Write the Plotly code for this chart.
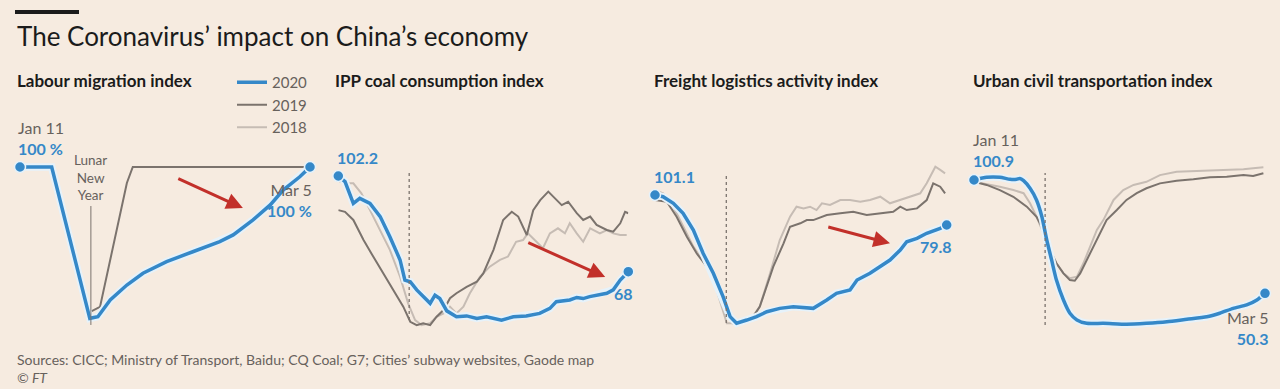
import plotly.graph_objects as go

# ---------------- data (days since Jan 11, index values) ----------------
# Labour migration index (%)
mig_2020_days = [0, 5.9, 13.0, 14.5, 16.8, 19.9, 22.9, 27.3, 32.3, 37.2, 39.7, 43.4, 46.6, 49.0, 52.1, 54]
mig_2020 = [100, 100, 17.8, 18.7, 27.8, 35.9, 42.3, 48.6, 54.1, 59.5, 63.1, 71.3, 79.4, 87.5, 94.7, 100]
mig_2019_days = [0, 6.0, 13.0, 14.9, 19.9, 21.0, 54]
mig_2019 = [100, 100, 21.2, 24.0, 91.3, 100, 100]

# IPP coal consumption index
coal_2020_days = [0, 1.25, 2.8, 4.0, 5.9, 7.8, 9.6, 11.5, 12.4, 13.4, 14.6, 17.1, 18.0, 18.9, 20.2, 22.0, 23.9, 25.8,
                  27.6, 29.5, 30.4, 32.6, 35.0, 37.5, 39.4, 40.6, 43.1, 44.4, 45.6, 46.8, 48.7, 50.0, 51.2, 52.5, 54]
coal_2020 = [102.2, 100.2, 92.4, 94.2, 92.4, 87.7, 80.5, 72.2, 65.0, 64.4, 61.5, 56.7, 59.6, 58.4, 54.0, 51.9, 52.2, 51.3,
             51.9, 51.3, 50.7, 51.9, 52.2, 53.1, 54.9, 57.3, 57.9, 58.8, 58.4, 59.1, 59.7, 60.3, 61.5, 65.0, 68.0]
coal_2019_days = [0, 1.25, 2.8, 4.7, 6.5, 8.4, 10.2, 12.1, 13.4, 14.6, 15.8, 17.1, 18.3, 19.6, 20.8, 22.0, 23.9, 25.8,
                  27.0, 28.9, 30.7, 32.3, 33.5, 35.1, 36.3, 37.6, 39.1, 40.7, 41.6, 42.8, 44.4, 45.6, 46.9, 48.1, 50.0,
                  51.2, 52.5, 53.4, 54]
coal_2019 = [90.0, 89.4, 86.5, 79.3, 73.4, 67.4, 61.5, 55.5, 50.1, 48.9, 49.6, 48.9, 51.9, 54.3, 58.5, 60.3, 62.6, 64.4,
             67.4, 75.8, 86.5, 89.4, 87.7, 81.1, 90.0, 93.6, 96.6, 93.6, 91.8, 93.0, 88.9, 86.5, 87.7, 84.7, 82.9,
             82.3, 85.3, 89.4, 88.9]
coal_2018_days = [0, 1.25, 2.8, 4.3, 5.9, 7.8, 9.6, 11.5, 13.0, 14.3, 15.5, 17.1, 18.3, 19.6, 20.8, 22.0, 23.3, 24.5,
                  26.4, 28.2, 30.1, 31.6, 33.1, 34.4, 35.3, 36.9, 38.1, 39.4, 40.9, 42.2, 43.1, 44.4, 45.6, 46.9, 48.7,
                  50.0, 51.2, 52.5, 53.7]
coal_2018 = [100.5, 99.6, 99.6, 96.0, 90.0, 82.9, 75.8, 66.2, 56.7, 50.7, 48.9, 49.6, 51.9, 53.1, 55.5, 53.1, 55.5, 60.3,
             66.2, 69.8, 72.2, 73.4, 78.7, 79.3, 81.7, 78.7, 76.4, 81.7, 83.5, 81.7, 85.3, 81.7, 78.7, 83.5, 81.7,
             82.9, 81.7, 81.1, 81.1]

# Freight logistics activity index
frt_2020_days = [0, 1.5, 3.4, 5.2, 7.1, 8.9, 10.8, 12.6, 13.9, 15.1, 17.0, 18.8, 20.7, 23.1, 25.6, 27.5, 29.3, 31.8,
                 33.6, 36.1, 37.4, 39.8, 41.7, 43.5, 45.4, 46.6, 48.5, 50.3, 52.8, 54]
frt_2020 = [101.1, 99.9, 95.2, 88.1, 76.2, 59.7, 45.5, 28.9, 14.7, 10.0, 12.3, 14.7, 18.2, 20.6, 21.8, 21.3, 20.6, 26.5,
            31.3, 33.6, 40.7, 45.5, 50.2, 54.9, 62.0, 67.9, 70.3, 73.9, 77.4, 79.8]
frt_2019_days = [0, 2.2, 4.0, 5.9, 7.7, 9.6, 11.4, 13.3, 14.5, 16.4, 18.2, 19.4, 20.7, 21.9, 23.8, 25.0, 26.9, 28.1,
                 29.3, 31.8, 34.3, 36.7, 39.2, 41.7, 44.1, 45.4, 46.6, 48.5, 50.3, 51.5, 52.8, 53.7]
frt_2019 = [97.5, 96.3, 85.7, 71.5, 59.7, 50.2, 35.9, 17.1, 10.0, 12.3, 14.7, 21.8, 35.9, 50.2, 66.8, 78.6, 81.0, 83.3,
            83.3, 86.9, 88.1, 89.2, 86.9, 88.1, 89.2, 92.8, 90.4, 91.6, 97.5, 109.4, 107.0, 102.3]
frt_2018_days = [0, 1.5, 3.4, 5.2, 7.1, 9.6, 11.4, 13.3, 15.1, 17.6, 19.4, 21.3, 23.1, 25.0, 26.2, 27.5, 28.7, 29.9,
                 30.9, 32.4, 34.3, 36.1, 38.0, 39.8, 41.7, 43.5, 45.4, 47.2, 49.1, 50.3, 51.9, 52.8, 53.7]
frt_2018 = [104.6, 102.3, 92.8, 78.6, 64.4, 50.2, 33.6, 10.0, 10.0, 12.3, 21.8, 45.5, 69.1, 85.7, 92.8, 91.6, 92.8, 90.4,
            95.2, 94.0, 97.5, 97.5, 96.3, 97.5, 99.9, 95.2, 97.5, 99.9, 102.3, 109.4, 121.2, 118.9, 116.5]

# Urban civil transportation index
urb_2020_days = [0, 2.35, 4.8, 6.7, 7.9, 8.5, 9.2, 10.4, 11.6, 12.6, 13.5, 14.4, 15.3, 16.6, 17.8, 19.1, 20.9, 24.0,
                 28.3, 32.0, 35.8, 39.5, 43.2, 45.6, 48.1, 50.6, 52.5, 54]
urb_2020 = [100.9, 102.1, 102.1, 101.2, 101.2, 101.6, 100.6, 97.2, 92.0, 84.5, 74.1, 65.2, 56.2, 47.3, 41.4, 38.4, 36.9,
            36.9, 36.5, 36.9, 37.6, 38.7, 39.8, 41.4, 43.6, 45.1, 47.3, 50.3]
urb_2019_days = [0, 2.35, 4.8, 7.3, 9.8, 11.6, 12.9, 14.1, 15.3, 16.6, 17.8, 18.7, 19.7, 20.9, 22.1, 23.4, 24.6, 26.5,
                 28.3, 30.2, 32.0, 34.5, 37.6, 40.7, 43.8, 46.9, 50.0, 51.8, 53.7]
urb_2019 = [100.1, 98.7, 96.4, 93.4, 89.0, 84.5, 78.6, 69.6, 63.7, 59.2, 56.2, 55.9, 59.2, 65.2, 71.1, 77.1, 83.0, 87.5,
            92.0, 95.0, 97.2, 99.4, 100.6, 101.2, 102.1, 102.4, 103.1, 102.7, 103.9]
urb_2018_days = [0, 2.35, 4.8, 7.3, 9.2, 10.4, 11.6, 12.9, 14.1, 15.3, 16.6, 17.8, 19.1, 20.3, 21.5, 22.8, 24.0, 25.9,
                 27.7, 29.6, 32.0, 34.5, 37.6, 40.7, 43.8, 46.9, 50.0, 51.8, 53.7]
urb_2018 = [100.1, 99.1, 97.9, 96.4, 95.0, 90.5, 84.5, 77.1, 69.6, 63.7, 59.2, 57.0, 57.7, 63.7, 71.1, 78.6, 83.0, 92.0,
            96.4, 98.7, 100.1, 103.1, 104.6, 104.9, 104.9, 105.4, 105.7, 106.1, 106.6]

panel_titles = ["Labour migration index", "IPP coal consumption index",
                "Freight logistics activity index", "Urban civil transportation index"]
LNY_DAY = 13.2
TOTAL_DAYS = 54

# ---------------- styling ----------------
W, H = 1280, 389
BG = "#f6ebe0"
BLUE = "#3588c8"
HALO = "#e6f2fa"
DARK = "#7b736d"
LIGHT = "#c6bcb4"
TEXT = "#1b1b1b"
GREY_TEXT = "#67615c"
RED = "#c2302a"
FONT = "Lato"


def fx(p):
    return p / W


def fy(p):
    return 1 - p / H


panels = [
    dict(x=(20, 310), yr=(6.03, 125.53), title_x=15, shape="linear",
         s20=(mig_2020_days, mig_2020), s19=(mig_2019_days, mig_2019), s18=None),
    dict(x=(338.3, 628.3), yr=(43.59, 122.21), title_x=333, shape="linear",
         s20=(coal_2020_days, coal_2020), s19=(coal_2019_days, coal_2019), s18=(coal_2018_days, coal_2018)),
    dict(x=(655, 946.7), yr=(-1.88, 154.37), title_x=652, shape="linear",
         s20=(frt_2020_days, frt_2020), s19=(frt_2019_days, frt_2019), s18=(frt_2018_days, frt_2018)),
    dict(x=(974, 1265), yr=(29.44, 127.70), title_x=971, shape="spline",
         s20=(urb_2020_days, urb_2020), s19=(urb_2019_days, urb_2019), s18=(urb_2018_days, urb_2018)),
]

fig = go.Figure()
layout_axes = {}
annotations = []
shapes = []

for i, p in enumerate(panels):
    n = "" if i == 0 else str(i + 1)
    xa, ya = "x" + n, "y" + n
    layout_axes["xaxis" + n] = dict(domain=[fx(p["x"][0]), fx(p["x"][1])], range=[0, TOTAL_DAYS],
                                    visible=False, fixedrange=True, anchor=ya)
    layout_axes["yaxis" + n] = dict(domain=[fy(340), fy(120)], range=list(p["yr"]),
                                    visible=False, fixedrange=True, anchor=xa)
    if p["s18"] is not None:
        fig.add_trace(go.Scatter(x=p["s18"][0], y=p["s18"][1], mode="lines", xaxis=xa, yaxis=ya,
                                 line=dict(color=LIGHT, width=2), name="2018",
                                 showlegend=(i == 1), legendrank=3, hoverinfo="skip"))
    fig.add_trace(go.Scatter(x=p["s19"][0], y=p["s19"][1], mode="lines", xaxis=xa, yaxis=ya,
                             line=dict(color=DARK, width=2), name="2019",
                             showlegend=(i == 1), legendrank=2, hoverinfo="skip"))
    fig.add_trace(go.Scatter(x=p["s20"][0], y=p["s20"][1], mode="lines", xaxis=xa, yaxis=ya,
                             line=dict(color=HALO, width=7.5, shape=p["shape"], smoothing=0.6),
                             showlegend=False, hoverinfo="skip"))
    fig.add_trace(go.Scatter(x=p["s20"][0], y=p["s20"][1], mode="lines", xaxis=xa, yaxis=ya,
                             line=dict(color=BLUE, width=3.5, shape=p["shape"], smoothing=0.6), name="2020",
                             showlegend=(i == 0), legendrank=1, hoverinfo="skip"))
    d, v = p["s20"]
    fig.add_trace(go.Scatter(x=[d[0], d[-1]], y=[v[0], v[-1]], mode="markers", xaxis=xa, yaxis=ya,
                             marker=dict(color=BLUE, size=11, line=dict(color=HALO, width=1.5)),
                             showlegend=False, cliponaxis=False, hoverinfo="skip"))
    annotations.append(dict(xref="paper", yref="paper", x=fx(p["title_x"]), y=fy(81),
                            xanchor="left", yanchor="middle", showarrow=False,
                            text="<b>" + panel_titles[i] + "</b>",
                            font=dict(family=FONT, size=17, color=TEXT)))

# Lunar New Year markers
shapes.append(dict(type="line", xref="x", yref="y", x0=LNY_DAY, x1=LNY_DAY, y0=14.2, y1=78.8,
                   line=dict(color=DARK, width=1)))
annotations.append(dict(xref="x", yref="y", x=LNY_DAY, y=78.8, yanchor="bottom", xanchor="center",
                        yshift=1, showarrow=False, text="Lunar<br>New<br>Year",
                        font=dict(family=FONT, size=13.5, color=GREY_TEXT)))
for n, (y0, y1) in zip(["2", "3", "4"], [(50.7, 103.3), (10.2, 116.7), (36.1, 104.0)]):
    shapes.append(dict(type="line", xref="x" + n, yref="y" + n, x0=LNY_DAY, x1=LNY_DAY, y0=y0, y1=y1,
                       line=dict(color=DARK, width=1.3, dash="dot")))


def lab(text, xref, yref, x, y, xanchor, yanchor, xshift, yshift, align="left"):
    annotations.append(dict(xref=xref, yref=yref, x=x, y=y, xanchor=xanchor, yanchor=yanchor,
                            xshift=xshift, yshift=yshift, showarrow=False, align=align, text=text,
                            font=dict(family=FONT, size=16, color=BLUE)))


def two(date, val):
    return "<span style='color:%s'>%s</span><br><b>%s</b>" % (GREY_TEXT, date, val)


lab(two("Jan 11", "100 %"), "x", "y", 0, mig_2020[0], "left", "bottom", -4, 7)
lab(two("Mar 5", "100 %"), "x", "y", TOTAL_DAYS, mig_2020[-1], "right", "top", 4, -11, "right")
lab("<b>102.2</b>", "x2", "y2", 0, coal_2020[0], "left", "bottom", -3, 7)
lab("<b>68</b>", "x2", "y2", TOTAL_DAYS, coal_2020[-1], "center", "top", -5, -10)
lab("<b>101.1</b>", "x3", "y3", 0, frt_2020[0], "left", "bottom", -3, 7)
lab("<b>79.8</b>", "x3", "y3", TOTAL_DAYS, frt_2020[-1], "right", "top", 7, -10, "right")
lab(two("Jan 11", "100.9"), "x4", "y4", 0, urb_2020[0], "left", "bottom", -3, 8)
lab(two("Mar 5", "50.3"), "x4", "y4", TOTAL_DAYS, urb_2020[-1], "right", "top", 5, -13, "right")

# red arrows
for n, head, tail in [("", (41.5, 77.7), (29.2, 94.0)),
                      ("2", (49.7, 66.1), (35.1, 78.6)),
                      ("3", (43.5, 66.8), (31.8, 78.6))]:
    annotations.append(dict(xref="x" + n, yref="y" + n, axref="x" + n, ayref="y" + n,
                            x=head[0], y=head[1], ax=tail[0], ay=tail[1], text="", showarrow=True,
                            arrowhead=2, arrowsize=1.1, arrowwidth=3, arrowcolor=RED, standoff=0))

# title, bar, sources
shapes.append(dict(type="line", xref="paper", yref="paper", x0=fx(15), x1=fx(79), y0=fy(12), y1=fy(12),
                   line=dict(color=TEXT, width=4)))
annotations.append(dict(xref="paper", yref="paper", x=fx(15), y=fy(36), xanchor="left", yanchor="middle",
                        showarrow=False, text="The Coronavirus’ impact on China’s economy",
                        font=dict(family=FONT, size=26, color=TEXT)))
annotations.append(dict(xref="paper", yref="paper", x=fx(15), y=fy(359), xanchor="left", yanchor="middle",
                        showarrow=False,
                        text="Sources: CICC; Ministry of Transport, Baidu; CQ Coal; G7; Cities’ subway websites, Gaode map",
                        font=dict(family=FONT, size=14, color=GREY_TEXT)))
annotations.append(dict(xref="paper", yref="paper", x=fx(15), y=fy(377), xanchor="left", yanchor="middle",
                        showarrow=False, text="<i>© FT</i>",
                        font=dict(family=FONT, size=14, color=GREY_TEXT)))

fig.update_layout(
    width=W, height=H, margin=dict(l=0, r=0, t=0, b=0),
    paper_bgcolor=BG, plot_bgcolor=BG,
    showlegend=True,
    legend=dict(x=fx(232), y=fy(66), xanchor="left", yanchor="top", bgcolor="rgba(0,0,0,0)",
                font=dict(family=FONT, size=15, color=GREY_TEXT), tracegroupgap=0, itemwidth=30),
    annotations=annotations, shapes=shapes,
    **layout_axes,
)

fig.write_html("out.html", config={"displayModeBar": False},
               post_script="document.body.style.margin='0';document.body.style.overflow='hidden';")
